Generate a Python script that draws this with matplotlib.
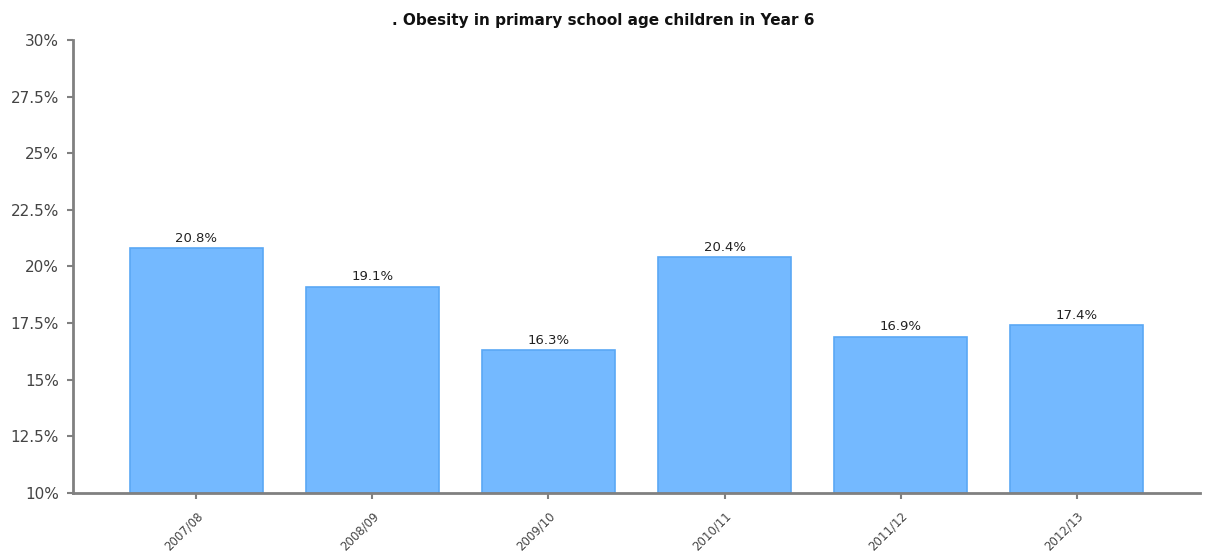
import matplotlib
matplotlib.use("Agg")
import matplotlib.pyplot as plt

categories = ["2007/08", "2008/09", "2009/10", "2010/11", "2011/12", "2012/13"]
values = [20.8, 19.1, 16.3, 20.4, 16.9, 17.4]
ytick_values = [10, 12.5, 15, 17.5, 20, 22.5, 25, 27.5, 30]
ytick_labels = ["10%", "12.5%", "15%", "17.5%", "20%", "22.5%", "25%", "27.5%", "30%"]
title = ". Obesity in primary school age children in Year 6"

fig = plt.figure(figsize=(12.05, 5.51), dpi=100)
ax = fig.add_axes([73/1205, 1 - 493/551, (1200-73)/1205, (493-40)/551])

x = list(range(len(categories)))
bars = ax.bar(x, [v - 10 for v in values], bottom=10, width=0.755,
              color="#74B9FF", edgecolor="#5AA8F5", linewidth=1.2, zorder=2)
for xi, v in zip(x, values):
    ax.text(xi, v + 0.15, f"{v:.1f}%", ha="center", va="bottom",
            fontsize=9.5, color="#222222", family="DejaVu Sans")

ax.set_xlim(-0.7, 5.7)
ax.set_ylim(10, 30)
ax.set_yticks(ytick_values)
ax.set_yticklabels(ytick_labels, fontsize=11, color="#444444")
ax.set_xticks(x)
ax.set_xticklabels(categories, rotation=45, ha="right", rotation_mode="anchor",
                   fontsize=8.5, color="#444444")
for s in ["top", "right"]:
    ax.spines[s].set_visible(False)
for s in ["left", "bottom"]:
    ax.spines[s].set_color("#808080")
    ax.spines[s].set_linewidth(2)
ax.tick_params(axis="both", colors="#808080", length=4, width=1.5, labelcolor="#444444")
ax.tick_params(axis="x", pad=8)
ax.tick_params(axis="y", pad=6)

fig.text(603/1205, 1 - 20/551, title, ha="center", va="center",
         fontsize=11, fontweight="bold", color="#111111")

fig.savefig("out.png", dpi=100)
